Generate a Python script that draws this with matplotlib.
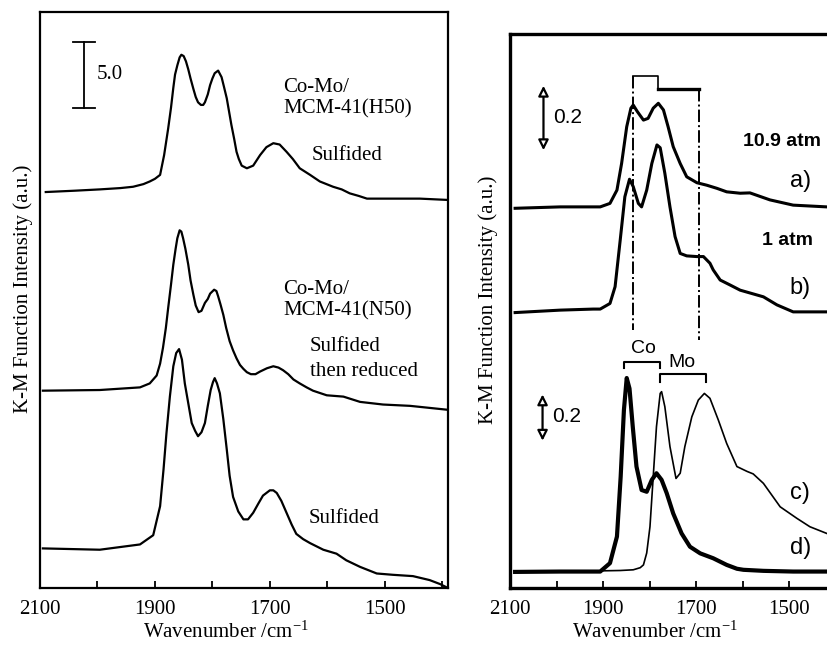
import matplotlib
matplotlib.use("Agg")
import matplotlib.pyplot as plt
from matplotlib.patches import FancyArrowPatch

SERIF = "Liberation Serif"
SANS = "Liberation Sans"
plt.rcParams["mathtext.fontset"] = "custom"
plt.rcParams["mathtext.rm"] = SERIF
plt.rcParams["mathtext.default"] = "rm"

# ---- left panel: Co-Mo/MCM-41 spectra (K-M units, stacked) ----
h50_wn = [2090, 2040, 1996, 1960, 1938, 1920, 1909, 1900, 1891, 1884, 1877, 1872, 1868,
          1865, 1861, 1857, 1854, 1850, 1846, 1842, 1838, 1833, 1829, 1825, 1820, 1816,
          1813, 1808, 1804, 1800, 1796, 1790, 1784, 1780, 1775, 1771, 1767, 1762, 1758,
          1754, 1749, 1740, 1729, 1717, 1706, 1694, 1683, 1671, 1660, 1648, 1630, 1613,
          1590, 1575, 1561, 1545, 1531, 1503, 1474, 1439, 1390]
h50_km = [30.0, 30.1, 30.2, 30.3, 30.4, 30.6, 30.8, 31.0, 31.3, 32.8, 34.8, 36.4, 37.9,
          38.9, 39.6, 40.2, 40.4, 40.3, 39.9, 39.3, 38.6, 37.8, 37.2, 36.8, 36.6, 36.6,
          36.8, 37.4, 38.1, 38.6, 39.0, 39.2, 38.7, 38.0, 37.1, 36.1, 35.1, 34.0, 33.05,
          32.5, 32.0, 31.8, 32.0, 32.8, 33.4, 33.7, 33.6, 33.05, 32.5, 31.8, 31.3, 30.8,
          30.4, 30.2, 29.9, 29.7, 29.5, 29.5, 29.5, 29.5, 29.4]

n50r_wn = [2095, 1996, 1926, 1909, 1903, 1897, 1891, 1886, 1881, 1877, 1872, 1868, 1864,
           1861, 1857, 1854, 1851, 1847, 1842, 1838, 1833, 1829, 1824, 1819, 1813, 1808,
           1804, 1797, 1793, 1790, 1786, 1781, 1776, 1770, 1764, 1758, 1752, 1746, 1740,
           1733, 1725, 1717, 1705, 1694, 1685, 1677, 1668, 1659, 1648, 1636, 1625, 1601,
           1572, 1543, 1503, 1456, 1390]
n50r_km = [14.95, 15.0, 15.2, 15.5, 15.8, 16.1, 17.0, 18.2, 19.7, 21.2, 23.0, 24.5, 25.7,
           26.5, 27.1, 27.0, 26.5, 25.7, 24.5, 23.3, 22.2, 21.4, 20.9, 21.0, 21.6, 21.9,
           22.3, 22.6, 22.5, 22.1, 21.5, 20.7, 19.7, 18.7, 18.0, 17.4, 16.9, 16.6, 16.35,
           16.2, 16.2, 16.4, 16.65, 16.8, 16.7, 16.5, 16.2, 15.8, 15.5, 15.2, 14.95, 14.6,
           14.5, 14.1, 13.9, 13.8, 13.5]

n50s_wn = [2095, 1996, 1926, 1903, 1891, 1885, 1880, 1874, 1868, 1863, 1858, 1853, 1848,
           1842, 1836, 1830, 1825, 1819, 1813, 1808, 1803, 1799, 1796, 1792, 1787, 1781,
           1775, 1770, 1764, 1755, 1746, 1738, 1729, 1720, 1712, 1700, 1694, 1688, 1680,
           1671, 1662, 1654, 1642, 1630, 1607, 1584, 1567, 1543, 1514, 1486, 1451, 1422,
           1404, 1390]
n50s_km = [3.0, 2.9, 3.3, 4.0, 6.2, 9.0, 11.7, 14.5, 16.8, 17.8, 18.1, 17.3, 15.5,
           14.0, 12.5, 11.9, 11.5, 11.8, 12.5, 13.8, 15.0, 15.6, 15.9, 15.5, 14.75, 12.8,
           10.5, 8.5, 6.9, 5.8, 5.2, 5.2, 5.7, 6.4, 7.0, 7.4, 7.4, 7.2, 6.6,
           5.7, 4.8, 4.1, 3.7, 3.4, 2.9, 2.6, 2.1, 1.6, 1.1, 1.0, 0.9, 0.6,
           0.3, 0.0]

# ---- right panel: pressure series a), b) and references c), d) ----
a_wn = [2089, 1992, 1957, 1906, 1885, 1870, 1860, 1849, 1840, 1835, 1826, 1813, 1803,
        1792, 1781, 1770, 1760, 1749, 1734, 1720, 1698, 1677, 1655, 1634, 1605, 1584,
        1541, 1491, 1419]
a_km = [1.085, 1.089, 1.089, 1.089, 1.099, 1.137, 1.213, 1.318, 1.371, 1.380, 1.361,
        1.337, 1.342, 1.371, 1.385, 1.366, 1.318, 1.261, 1.213, 1.175, 1.158, 1.151,
        1.142, 1.132, 1.128, 1.129, 1.109, 1.094, 1.089]

b_wn = [2089, 1992, 1921, 1906, 1885, 1874, 1863, 1853, 1843, 1835, 1824, 1817, 1806,
        1795, 1784, 1777, 1767, 1756, 1745, 1734, 1720, 1698, 1684, 1670, 1663, 1648,
        1627, 1605, 1555, 1526, 1491, 1419]
b_km = [0.787, 0.794, 0.797, 0.797, 0.813, 0.861, 0.994, 1.118, 1.168, 1.147, 1.099,
        1.089, 1.137, 1.213, 1.266, 1.258, 1.185, 1.089, 1.004, 0.956, 0.949, 0.947,
        0.947, 0.928, 0.909, 0.880, 0.866, 0.851, 0.832, 0.809, 0.789, 0.789]

c_wn = [2089, 1992, 1906, 1863, 1835, 1820, 1813, 1806, 1799, 1792, 1785, 1777, 1774,
        1767, 1756, 1743, 1734, 1724, 1709, 1695, 1682, 1670, 1652, 1634, 1612, 1590,
        1577, 1555, 1519, 1483, 1455, 1419]
c_km = [0.046, 0.047, 0.049, 0.050, 0.052, 0.058, 0.066, 0.100, 0.175, 0.318, 0.461,
        0.556, 0.561, 0.518, 0.404, 0.313, 0.328, 0.404, 0.489, 0.537, 0.556, 0.542,
        0.480, 0.413, 0.347, 0.333, 0.326, 0.299, 0.232, 0.199, 0.175, 0.156]

d_wn = [2089, 1992, 1906, 1885, 1870, 1862, 1855, 1849, 1843, 1836, 1828, 1817, 1806,
        1795, 1785, 1774, 1763, 1749, 1731, 1713, 1691, 1663, 1634, 1612, 1598, 1555,
        1491, 1419]
d_km = [0.046, 0.047, 0.047, 0.071, 0.147, 0.318, 0.509, 0.600, 0.570, 0.461, 0.347,
        0.280, 0.275, 0.309, 0.328, 0.309, 0.271, 0.213, 0.156, 0.118, 0.099, 0.085,
        0.066, 0.055, 0.052, 0.049, 0.047, 0.047]

ticks_major = [2100, 1900, 1700, 1500]
ticks_minor = [2000, 1800, 1600, 1400]

fig = plt.figure(figsize=(8.27, 6.48), dpi=100)
ax1 = fig.add_axes([40 / 827, 60 / 648, 408 / 827, 576 / 648])
ax2 = fig.add_axes([510 / 827, 60 / 648, 325.5 / 827, 554 / 648])


def style_axis(ax, xmax, ymax, spine_w):
    ax.set_xlim(2100, xmax)
    ax.set_ylim(0, ymax)
    ax.set_xticks(ticks_major)
    ax.set_xticks(ticks_minor, minor=True)
    ax.set_xticklabels([str(t) for t in ticks_major], fontfamily=SERIF, fontsize=15)
    ax.tick_params(axis="x", which="both", direction="in", length=5, width=1.3, pad=9)
    ax.set_yticks([])
    for s in ax.spines.values():
        s.set_linewidth(spine_w)
    ax.set_xlabel("Wavenumber /cm$^{-1}$", fontfamily=SERIF, fontsize=15)
    ax.set_ylabel("K-M Function Intensity (a.u.)", fontfamily=SERIF, fontsize=15)


style_axis(ax1, 1390, 43.64, 1.6)
style_axis(ax2, 1400, 1.583, 2.4)
ax1.yaxis.set_label_coords(-0.017, 0.52)
ax2.yaxis.set_label_coords(-0.037, 0.52)
ax1.xaxis.set_label_coords(0.455, -0.058)
ax2.xaxis.set_label_coords(0.445, -0.061)

# left panel curves
for wn, km in [(h50_wn, h50_km), (n50r_wn, n50r_km), (n50s_wn, n50s_km)]:
    ax1.plot(wn, km, color="black", lw=1.6, solid_joinstyle="round")

# scale bar 5.0
ax1.plot([2023.5, 2023.5], [36.36, 41.36], color="black", lw=1.3)
ax1.plot([2042.6, 2004.3], [41.36, 41.36], color="black", lw=1.3)
ax1.plot([2042.6, 2004.3], [36.36, 36.36], color="black", lw=1.3)
ax1.text(2002, 38.9, "5.0", fontfamily=SERIF, fontsize=15, va="center", ha="left")

tkw = dict(fontfamily=SERIF, fontsize=15, va="center", ha="left")
ax1.text(1677, 37.9, "Co-Mo/", **tkw)
ax1.text(1677, 36.3, "MCM-41(H50)", **tkw)
ax1.text(1627, 32.8, "Sulfided", **tkw)
ax1.text(1677, 22.6, "Co-Mo/", **tkw)
ax1.text(1677, 21.0, "MCM-41(N50)", **tkw)
ax1.text(1630, 18.26, "Sulfided", **tkw)
ax1.text(1630, 16.44, "then reduced", **tkw)
ax1.text(1632, 5.3, "Sulfided", **tkw)

# right panel curves
ax2.plot(a_wn, a_km, color="black", lw=2.2, solid_joinstyle="round")
ax2.plot(b_wn, b_km, color="black", lw=2.2, solid_joinstyle="round")
ax2.plot(c_wn, c_km, color="black", lw=1.2, solid_joinstyle="round")
ax2.plot(d_wn, d_km, color="black", lw=3.0, solid_joinstyle="round")

# dash-dot guide lines with brackets
ax2.plot([1836, 1836], [1.463, 0.737], color="black", lw=1.4, ls="-.")
ax2.plot([1694, 1694], [1.426, 0.709], color="black", lw=1.4, ls="-.")
ax2.plot([1836, 1781, 1781], [1.463, 1.463, 1.426], color="black", lw=1.2)
ax2.plot([1781, 1694], [1.426, 1.426], color="black", lw=2.4)

# Co / Mo brackets
ax2.plot([1855, 1855, 1777, 1777], [0.629, 0.646, 0.646, 0.629], color="black", lw=1.5)
ax2.plot([1777, 1777, 1678, 1678], [0.589, 0.611, 0.611, 0.589], color="black", lw=1.5)
ax2.text(1814, 0.683, "Co", fontfamily=SANS, fontsize=14, ha="center", va="center")
ax2.text(1730, 0.645, "Mo", fontfamily=SANS, fontsize=14, ha="center", va="center")

# 0.2 scale arrows
for y0, y1, ty, x in [(1.243, 1.443, 1.343, 2028), (0.413, 0.561, 0.489, 2030)]:
    arr = FancyArrowPatch((x, y0), (x, y1), arrowstyle="<|-|>,head_length=6,head_width=3",
                          mutation_scale=1, lw=1.6, facecolor="white", edgecolor="black")
    ax2.add_patch(arr)
    ax2.text(x - 20, ty, "0.2", fontfamily=SANS, fontsize=15, ha="left", va="center")

ax2.text(1599, 1.277, "10.9 atm", fontfamily=SANS, fontsize=14, fontweight="bold", va="center")
ax2.text(1558, 0.994, "1 atm", fontfamily=SANS, fontsize=14, fontweight="bold", va="center")
for lab, y in [("a)", 1.163), ("b)", 0.857), ("c)", 0.271), ("d)", 0.114)]:
    ax2.text(1498, y, lab, fontfamily=SANS, fontsize=17, va="center")

fig.savefig("out.png", dpi=100)
